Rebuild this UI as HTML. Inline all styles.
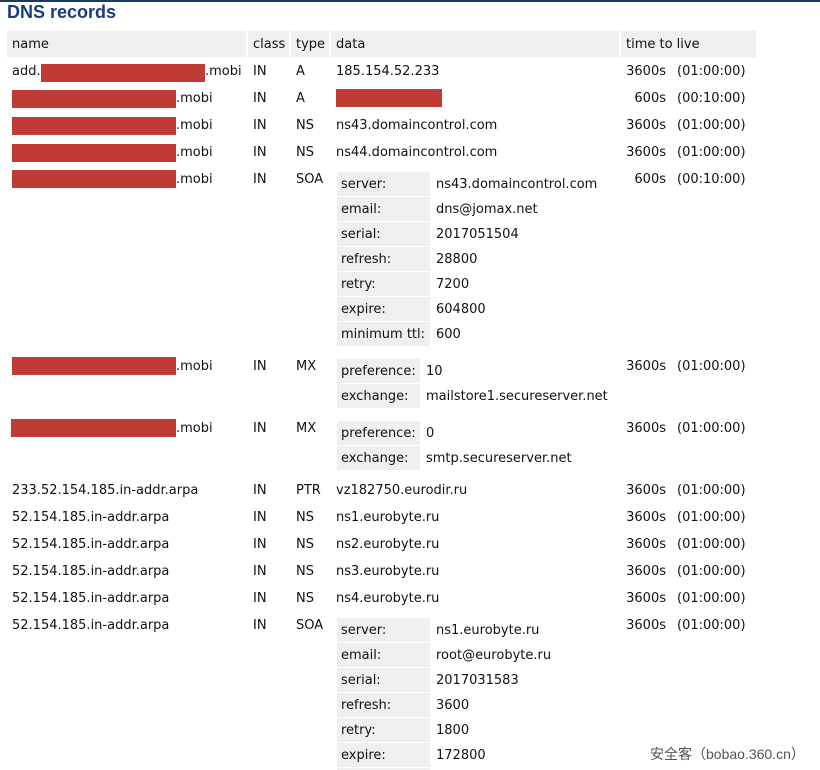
<!DOCTYPE html>
<html><head><meta charset="utf-8"><style>
html,body{margin:0;width:820px;height:770px;overflow:hidden}
body{background:#fff;position:relative;font-family:"DejaVu Sans","Liberation Sans",sans-serif;font-size:13px;color:#111}
.t{position:absolute;line-height:16px;white-space:nowrap;margin-top:1px}
.r{position:absolute;background:#c03b36}
.g{position:absolute;background:#efefef}
.ttl{position:absolute;line-height:16px;white-space:nowrap;width:60px;text-align:right;left:606px;margin-top:1px}
h1{position:absolute;left:7px;top:2px;margin:0;font:bold 18px "Liberation Sans",sans-serif;color:#1b3a82}
</style></head><body>
<div style="position:absolute;left:0;top:0;width:820px;height:2px;background:#1b3a60"></div>
<h1>DNS records</h1>
<div class="g" style="left:7px;top:31px;width:239px;height:26px"></div>
<div class="g" style="left:248px;top:31px;width:41px;height:26px"></div>
<div class="g" style="left:291px;top:31px;width:38px;height:26px"></div>
<div class="g" style="left:331px;top:31px;width:288px;height:26px"></div>
<div class="g" style="left:621px;top:31px;width:135px;height:26px"></div>
<div class="t" style="left:12px;top:36px">name</div>
<div class="t" style="left:253px;top:36px">class</div>
<div class="t" style="left:296px;top:36px">type</div>
<div class="t" style="left:336px;top:36px">data</div>
<div class="t" style="left:626px;top:36px">time to live</div>

<div class="t" style="left:12px;top:63px">add.</div><div class="r" style="left:41px;top:64px;width:164px;height:18px"></div><div class="t" style="left:205px;top:63px">.mobi</div>
<div class="t" style="left:253px;top:63px">IN</div><div class="t" style="left:296px;top:63px">A</div><div class="t" style="left:336px;top:63px">185.154.52.233</div>
<div class="ttl" style="top:63px">3600s</div><div class="t" style="left:677px;top:63px">(01:00:00)</div>

<div class="r" style="left:12px;top:90px;width:164px;height:18px"></div><div class="t" style="left:176px;top:90px">.mobi</div>
<div class="t" style="left:253px;top:90px">IN</div><div class="t" style="left:296px;top:90px">A</div><div class="r" style="left:336px;top:89px;width:106px;height:18px"></div>
<div class="ttl" style="top:90px">600s</div><div class="t" style="left:677px;top:90px">(00:10:00)</div>

<div class="r" style="left:12px;top:117px;width:164px;height:18px"></div><div class="t" style="left:176px;top:117px">.mobi</div>
<div class="t" style="left:253px;top:117px">IN</div><div class="t" style="left:296px;top:117px">NS</div><div class="t" style="left:336px;top:117px">ns43.domaincontrol.com</div>
<div class="ttl" style="top:117px">3600s</div><div class="t" style="left:677px;top:117px">(01:00:00)</div>

<div class="r" style="left:12px;top:144px;width:164px;height:18px"></div><div class="t" style="left:176px;top:144px">.mobi</div>
<div class="t" style="left:253px;top:144px">IN</div><div class="t" style="left:296px;top:144px">NS</div><div class="t" style="left:336px;top:144px">ns44.domaincontrol.com</div>
<div class="ttl" style="top:144px">3600s</div><div class="t" style="left:677px;top:144px">(01:00:00)</div>

<div class="r" style="left:12px;top:170px;width:164px;height:18px"></div><div class="t" style="left:176px;top:171px">.mobi</div>
<div class="t" style="left:253px;top:171px">IN</div><div class="t" style="left:296px;top:171px">SOA</div>
<div class="ttl" style="top:171px">600s</div><div class="t" style="left:677px;top:171px">(00:10:00)</div>
<div class="g" style="left:337px;top:172px;width:93px;height:24px"></div><div class="t" style="left:341px;top:176px">server:</div><div class="t" style="left:436px;top:176px">ns43.domaincontrol.com</div>
<div class="g" style="left:337px;top:197px;width:93px;height:24px"></div><div class="t" style="left:341px;top:201px">email:</div><div class="t" style="left:436px;top:201px">dns@jomax.net</div>
<div class="g" style="left:337px;top:222px;width:93px;height:24px"></div><div class="t" style="left:341px;top:226px">serial:</div><div class="t" style="left:436px;top:226px">2017051504</div>
<div class="g" style="left:337px;top:247px;width:93px;height:24px"></div><div class="t" style="left:341px;top:251px">refresh:</div><div class="t" style="left:436px;top:251px">28800</div>
<div class="g" style="left:337px;top:272px;width:93px;height:24px"></div><div class="t" style="left:341px;top:276px">retry:</div><div class="t" style="left:436px;top:276px">7200</div>
<div class="g" style="left:337px;top:297px;width:93px;height:24px"></div><div class="t" style="left:341px;top:301px">expire:</div><div class="t" style="left:436px;top:301px">604800</div>
<div class="g" style="left:337px;top:322px;width:93px;height:24px"></div><div class="t" style="left:341px;top:326px">minimum ttl:</div><div class="t" style="left:436px;top:326px">600</div>

<div class="r" style="left:12px;top:357px;width:164px;height:18px"></div><div class="t" style="left:176px;top:358px">.mobi</div>
<div class="t" style="left:253px;top:358px">IN</div><div class="t" style="left:296px;top:358px">MX</div>
<div class="ttl" style="top:358px">3600s</div><div class="t" style="left:677px;top:358px">(01:00:00)</div>
<div class="g" style="left:337px;top:359px;width:83px;height:24px"></div><div class="t" style="left:341px;top:363px">preference:</div><div class="t" style="left:426px;top:363px">10</div>
<div class="g" style="left:337px;top:384px;width:83px;height:24px"></div><div class="t" style="left:341px;top:388px">exchange:</div><div class="t" style="left:426px;top:388px">mailstore1.secureserver.net</div>

<div class="r" style="left:11px;top:419px;width:165px;height:18px"></div><div class="t" style="left:176px;top:420px">.mobi</div>
<div class="t" style="left:253px;top:420px">IN</div><div class="t" style="left:296px;top:420px">MX</div>
<div class="ttl" style="top:420px">3600s</div><div class="t" style="left:677px;top:420px">(01:00:00)</div>
<div class="g" style="left:337px;top:421px;width:83px;height:24px"></div><div class="t" style="left:341px;top:425px">preference:</div><div class="t" style="left:426px;top:425px">0</div>
<div class="g" style="left:337px;top:446px;width:83px;height:24px"></div><div class="t" style="left:341px;top:450px">exchange:</div><div class="t" style="left:426px;top:450px">smtp.secureserver.net</div>

<div class="t" style="left:12px;top:482px">233.52.154.185.in-addr.arpa</div><div class="t" style="left:253px;top:482px">IN</div><div class="t" style="left:296px;top:482px">PTR</div><div class="t" style="left:336px;top:482px">vz182750.eurodir.ru</div><div class="ttl" style="top:482px">3600s</div><div class="t" style="left:677px;top:482px">(01:00:00)</div>
<div class="t" style="left:12px;top:509px">52.154.185.in-addr.arpa</div><div class="t" style="left:253px;top:509px">IN</div><div class="t" style="left:296px;top:509px">NS</div><div class="t" style="left:336px;top:509px">ns1.eurobyte.ru</div><div class="ttl" style="top:509px">3600s</div><div class="t" style="left:677px;top:509px">(01:00:00)</div>
<div class="t" style="left:12px;top:536px">52.154.185.in-addr.arpa</div><div class="t" style="left:253px;top:536px">IN</div><div class="t" style="left:296px;top:536px">NS</div><div class="t" style="left:336px;top:536px">ns2.eurobyte.ru</div><div class="ttl" style="top:536px">3600s</div><div class="t" style="left:677px;top:536px">(01:00:00)</div>
<div class="t" style="left:12px;top:563px">52.154.185.in-addr.arpa</div><div class="t" style="left:253px;top:563px">IN</div><div class="t" style="left:296px;top:563px">NS</div><div class="t" style="left:336px;top:563px">ns3.eurobyte.ru</div><div class="ttl" style="top:563px">3600s</div><div class="t" style="left:677px;top:563px">(01:00:00)</div>
<div class="t" style="left:12px;top:590px">52.154.185.in-addr.arpa</div><div class="t" style="left:253px;top:590px">IN</div><div class="t" style="left:296px;top:590px">NS</div><div class="t" style="left:336px;top:590px">ns4.eurobyte.ru</div><div class="ttl" style="top:590px">3600s</div><div class="t" style="left:677px;top:590px">(01:00:00)</div>
<div class="t" style="left:12px;top:617px">52.154.185.in-addr.arpa</div><div class="t" style="left:253px;top:617px">IN</div><div class="t" style="left:296px;top:617px">SOA</div><div class="ttl" style="top:617px">3600s</div><div class="t" style="left:677px;top:617px">(01:00:00)</div>
<div class="g" style="left:337px;top:618px;width:93px;height:24px"></div><div class="t" style="left:341px;top:622px">server:</div><div class="t" style="left:436px;top:622px">ns1.eurobyte.ru</div>
<div class="g" style="left:337px;top:643px;width:93px;height:24px"></div><div class="t" style="left:341px;top:647px">email:</div><div class="t" style="left:436px;top:647px">root@eurobyte.ru</div>
<div class="g" style="left:337px;top:668px;width:93px;height:24px"></div><div class="t" style="left:341px;top:672px">serial:</div><div class="t" style="left:436px;top:672px">2017031583</div>
<div class="g" style="left:337px;top:693px;width:93px;height:24px"></div><div class="t" style="left:341px;top:697px">refresh:</div><div class="t" style="left:436px;top:697px">3600</div>
<div class="g" style="left:337px;top:718px;width:93px;height:24px"></div><div class="t" style="left:341px;top:722px">retry:</div><div class="t" style="left:436px;top:722px">1800</div>
<div class="g" style="left:337px;top:743px;width:93px;height:24px"></div><div class="t" style="left:341px;top:747px">expire:</div><div class="t" style="left:436px;top:747px">172800</div>
<div class="g" style="left:337px;top:768px;width:93px;height:2px"></div>
<div class="t" style="left:650px;top:743px;color:#555;font:14px 'Liberation Sans','Noto Sans CJK SC',sans-serif">安全客（bobao.360.cn）</div>
</body></html>
